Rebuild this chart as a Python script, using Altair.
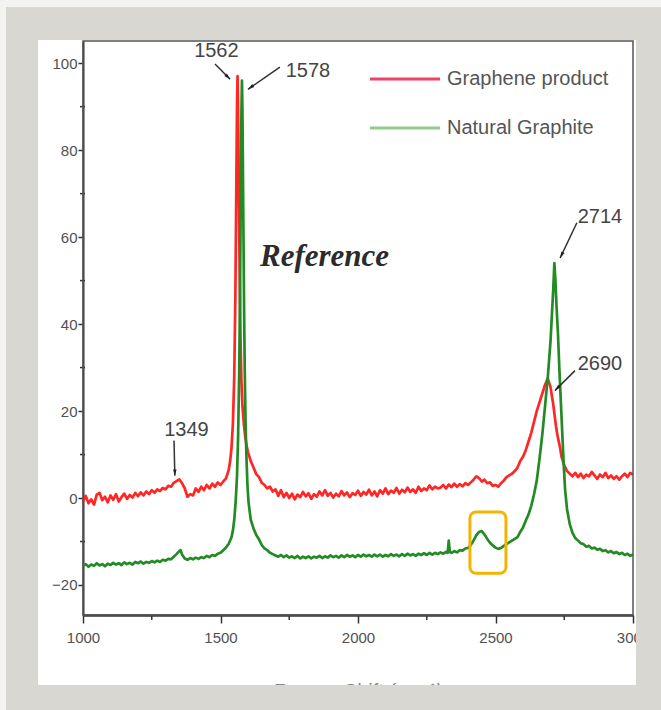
import altair as alt
import pandas as pd

SERIES = ["Graphene product", "Natural Graphite"]
LINE_COLORS = ["#ff2626", "#238b23"]
LEGEND_COLORS = ["#f2406a", "#92cc8c"]

# (Raman shift, intensity)
RED = [
    (1000, -0.8), (1010, 0.5), (1020, -1.2), (1030, -0.3), (1040, -1.5), (1050, 0.8), (1060, 1.2),
    (1070, -0.5), (1080, 0.3), (1090, -1.0), (1100, 0.6), (1110, -0.4), (1120, 0.9), (1130, -0.8),
    (1140, 0.2), (1150, 1.0), (1160, -0.2), (1170, 0.7), (1180, 0.1), (1190, 1.2), (1200, 0.4),
    (1210, 1.3), (1220, 0.6), (1230, 1.5), (1240, 0.9), (1250, 1.8), (1260, 1.2), (1270, 2.0),
    (1280, 1.6), (1290, 2.3), (1300, 2.0), (1310, 2.8), (1320, 2.6), (1330, 3.5), (1340, 3.9),
    (1350, 4.3), (1360, 3.4), (1370, 2.2), (1380, 0.3), (1390, 0.9), (1400, 0.6), (1410, 2.2),
    (1420, 1.4), (1430, 2.6), (1440, 1.8), (1450, 3.0), (1460, 2.2), (1470, 3.3), (1480, 2.6),
    (1490, 3.6), (1500, 3.0), (1510, 3.8), (1520, 4.5), (1525, 5.5), (1530, 6.5), (1535, 8.5),
    (1540, 11.5), (1545, 17), (1550, 28), (1554, 46), (1557, 68), (1560, 90), (1562, 97),
    (1564, 90), (1567, 68), (1570, 50), (1573, 36), (1576, 27), (1580, 21), (1585, 17), (1590, 14),
    (1595, 12), (1600, 10.5), (1605, 9.5), (1610, 8.5), (1620, 7.0), (1630, 5.5), (1640, 4.8),
    (1650, 3.5), (1660, 3.0), (1670, 2.2), (1680, 2.6), (1690, 1.5), (1700, 2.0), (1710, 0.5),
    (1720, 1.8), (1730, 0.2), (1740, 1.2), (1750, 0.0), (1760, 1.0), (1770, -0.3), (1780, 0.8),
    (1790, 0.2), (1800, 1.4), (1810, 0.4), (1820, 1.1), (1830, -0.2), (1840, 0.9), (1850, 0.3),
    (1860, 1.5), (1870, 0.6), (1880, 1.8), (1890, 0.5), (1900, 1.2), (1910, 0.1), (1920, 1.0),
    (1930, 0.4), (1940, 1.6), (1950, 0.6), (1960, 1.3), (1970, 0.2), (1980, 1.1), (1990, 0.7),
    (2000, 1.7), (2010, 0.5), (2020, 1.4), (2030, 0.8), (2040, 1.9), (2050, 0.6), (2060, 1.5),
    (2070, 0.4), (2080, 1.8), (2090, 1.0), (2100, 2.2), (2110, 0.9), (2120, 1.7), (2130, 1.2),
    (2140, 2.3), (2150, 1.0), (2160, 1.9), (2170, 1.3), (2180, 2.4), (2190, 1.4), (2200, 2.0),
    (2210, 1.2), (2220, 2.6), (2230, 1.6), (2240, 2.2), (2250, 1.8), (2260, 2.9), (2270, 2.0),
    (2280, 2.6), (2290, 2.2), (2300, 2.4), (2310, 3.0), (2320, 2.2), (2330, 3.1), (2340, 2.5),
    (2350, 3.3), (2360, 2.6), (2370, 3.2), (2380, 2.7), (2390, 3.4), (2400, 3.0), (2410, 3.6),
    (2420, 4.2), (2430, 5.0), (2440, 4.6), (2450, 3.8), (2460, 4.2), (2470, 3.4), (2480, 3.6),
    (2490, 2.8), (2500, 3.0), (2510, 2.6), (2520, 3.4), (2530, 4.0), (2540, 4.8), (2550, 5.2),
    (2560, 5.6), (2570, 6.2), (2580, 7.0), (2590, 8.5), (2600, 9.5), (2610, 11.0), (2620, 13.0),
    (2630, 15.0), (2640, 17.5), (2650, 20.0), (2660, 22.0), (2670, 24.0), (2680, 26.0),
    (2690, 27.5), (2700, 25.5), (2705, 23.5), (2710, 21.5), (2715, 19.0), (2720, 16.5),
    (2725, 14.5), (2730, 13.0), (2735, 11.5), (2740, 9.5), (2745, 8.5), (2750, 7.5), (2760, 6.2),
    (2770, 5.6), (2780, 5.0), (2790, 5.8), (2800, 4.8), (2810, 5.6), (2820, 4.6), (2830, 5.4),
    (2840, 5.0), (2850, 6.0), (2860, 5.2), (2870, 4.4), (2880, 5.4), (2890, 4.8), (2900, 5.8),
    (2910, 4.6), (2920, 5.2), (2930, 4.4), (2940, 5.0), (2950, 4.2), (2960, 5.0), (2970, 5.6),
    (2980, 4.8), (2990, 5.8), (3000, 5.4),
]

GREEN = [
    (1000, -15.6), (1010, -15.2), (1020, -15.8), (1030, -15.3), (1040, -15.6), (1050, -15.0),
    (1060, -15.5), (1070, -15.2), (1080, -15.7), (1090, -15.1), (1100, -15.4), (1110, -14.9),
    (1120, -15.3), (1130, -15.0), (1140, -15.4), (1150, -14.8), (1160, -15.2), (1170, -14.9),
    (1180, -15.3), (1190, -14.7), (1200, -15.0), (1210, -14.6), (1220, -15.1), (1230, -14.7),
    (1240, -14.9), (1250, -14.5), (1260, -14.8), (1270, -14.4), (1280, -14.7), (1290, -14.2),
    (1300, -14.4), (1310, -14.0), (1320, -14.1), (1330, -13.5), (1340, -12.9), (1350, -12.2),
    (1355, -12.0), (1360, -13.0), (1370, -13.9), (1380, -14.2), (1390, -13.8), (1400, -14.1),
    (1410, -13.7), (1420, -14.0), (1430, -13.6), (1440, -13.8), (1450, -13.3), (1460, -13.6),
    (1470, -13.1), (1480, -13.3), (1490, -12.8), (1500, -12.6), (1510, -12.0), (1520, -11.4),
    (1530, -10.5), (1540, -9.0), (1545, -7.5), (1550, -5.0), (1555, -1.0), (1560, 5.0),
    (1564, 14.0), (1568, 29.0), (1571, 47.0), (1574, 72.0), (1576, 88.0), (1578, 96.0),
    (1580, 88.0), (1582, 72.0), (1584, 57.0), (1586, 42.0), (1588, 30.0), (1591, 18.0),
    (1594, 10.0), (1598, 3.0), (1602, -1.0), (1606, -3.0), (1610, -5.0), (1620, -7.0),
    (1630, -8.5), (1640, -9.5), (1650, -10.8), (1660, -11.6), (1670, -12.0), (1680, -12.6),
    (1690, -12.9), (1700, -13.2), (1710, -13.5), (1720, -13.1), (1730, -13.6), (1740, -13.2),
    (1750, -13.7), (1760, -13.4), (1770, -13.8), (1780, -13.3), (1790, -13.9), (1800, -13.5),
    (1810, -13.8), (1820, -13.4), (1830, -13.9), (1840, -13.5), (1850, -13.7), (1860, -13.3),
    (1870, -13.8), (1880, -13.4), (1890, -13.7), (1900, -13.2), (1910, -13.6), (1920, -13.3),
    (1930, -13.7), (1940, -13.2), (1950, -13.6), (1960, -13.1), (1970, -13.5), (1980, -13.2),
    (1990, -13.6), (2000, -13.1), (2010, -13.5), (2020, -13.0), (2030, -13.4), (2040, -13.1),
    (2050, -13.5), (2060, -13.0), (2070, -13.4), (2080, -13.0), (2090, -13.5), (2100, -13.1),
    (2110, -13.4), (2120, -12.9), (2130, -13.3), (2140, -13.0), (2150, -13.4), (2160, -12.9),
    (2170, -13.3), (2180, -12.8), (2190, -13.2), (2200, -12.9), (2210, -13.3), (2220, -12.8),
    (2230, -13.1), (2240, -12.7), (2250, -13.1), (2260, -12.6), (2270, -13.0), (2280, -12.6),
    (2290, -12.9), (2300, -12.5), (2310, -12.8), (2320, -12.4), (2326, -12.6), (2330, -9.8),
    (2334, -12.4), (2340, -12.6), (2350, -12.2), (2360, -12.5), (2370, -12.0), (2380, -12.1),
    (2390, -11.6), (2400, -11.5), (2410, -10.8), (2420, -9.8), (2430, -8.6), (2440, -7.8),
    (2450, -7.6), (2460, -8.4), (2470, -9.4), (2480, -10.3), (2490, -10.9), (2500, -11.4),
    (2510, -11.7), (2520, -11.5), (2530, -11.0), (2540, -10.6), (2550, -10.2), (2560, -9.8),
    (2570, -9.4), (2580, -9.0), (2590, -7.8), (2600, -6.8), (2610, -5.2), (2620, -3.8),
    (2630, -1.8), (2640, 0.8), (2650, 4.0), (2660, 9.0), (2670, 14.5), (2680, 21.0),
    (2690, 27.7), (2700, 36.0), (2705, 42.0), (2710, 48.0), (2714, 54.0), (2718, 50.0),
    (2722, 44.0), (2727, 38.0), (2732, 30.0), (2737, 23.0), (2742, 16.0), (2747, 9.0),
    (2753, 2.0), (2760, -2.5), (2770, -6.0), (2780, -8.0), (2790, -9.2), (2800, -9.8),
    (2810, -10.4), (2820, -10.6), (2830, -11.2), (2840, -11.0), (2850, -11.6), (2860, -11.4),
    (2870, -11.9), (2880, -11.7), (2890, -12.2), (2900, -12.0), (2910, -12.5), (2920, -12.2),
    (2930, -12.7), (2940, -12.4), (2950, -12.9), (2960, -12.6), (2970, -13.1), (2980, -12.8),
    (2990, -13.3), (3000, -13.0),
]

X_MAJOR = [1000, 1500, 2000, 2500, 3000]
X_MINOR = [1250, 1750, 2250, 2750]
Y_MAJOR = [-20, 0, 20, 40, 60, 80, 100]
Y_MINOR = [-10, 10, 30, 50, 70, 90]

# peak annotations
PEAK_LABELS = ["1562", "1578", "2714", "2690", "1349"]
LABEL_X = [1485, 1818, 2880, 2880, 1376]
LABEL_Y = [102.8, 98.2, 64.7, 30.9, 15.7]
ARROW_X0 = [1480, 1716, 2796, 2789, 1331]
ARROW_Y0 = [99.8, 99.1, 63.3, 29.3, 13.2]
ARROW_X1 = [1535, 1600, 2735, 2716, 1334]
ARROW_Y1 = [96.3, 94.0, 55.2, 24.7, 5.1]
ARROW_ANGLE = [135, 235, 206, 225, 180]

# highlighted region
BOX_X = [2407, 2538]
BOX_Y = [-3.2, -17.3]

W, H = 550, 574
GRAY = "#d8d7d1"

rows = [{"shift": x, "intensity": y, "series": SERIES[0]} for x, y in RED]
rows += [{"shift": x, "intensity": y, "series": SERIES[1]} for x, y in GREEN]
df = pd.DataFrame(rows)

xs = alt.Scale(domain=[1000, 3000], nice=False, zero=False)
ys = alt.Scale(domain=[-26.9, 105.1], nice=False, zero=False)

X_AXIS = alt.Axis(
    values=X_MAJOR, format="d", grid=False, tickSize=8, tickWidth=1.5, tickColor="#333",
    domainColor="#333", domainWidth=2.5, labelFontSize=15, labelColor="#505050",
    labelFont="Liberation Sans", labelPadding=7, labelFlush=False, labelOverlap=False,
    title="Raman Shift (cm⁻¹)", titleFont="Liberation Sans", titleFontSize=20,
    titleFontWeight="normal", titleColor="#888", titleY=66, titleBaseline="top")
Y_AXIS = alt.Axis(
    values=Y_MAJOR, grid=False, tickSize=5, tickWidth=1.5, tickColor="#333",
    domainColor="#333", domainWidth=2, labelFontSize=15, labelColor="#505050",
    labelFont="Liberation Sans", labelPadding=1, labelFlush=False, labelOverlap=False,
    title=None)


def X(field):
    return alt.X(field, scale=xs, axis=X_AXIS)


def Y(field):
    return alt.Y(field, scale=ys, axis=Y_AXIS)


lines = alt.Chart(df).mark_line(strokeWidth=2.7, strokeJoin="round").encode(
    x=X("shift:Q"),
    y=Y("intensity:Q"),
    color=alt.Color("series:N", scale=alt.Scale(domain=SERIES, range=LINE_COLORS), legend=None),
)

one = pd.DataFrame({"a": [0]})


def px_rect(x0, x1, y0, y1, color):
    return alt.Chart(one).mark_rect(color=color).encode(
        x=alt.value(x0), x2=alt.value(x1), y=alt.value(y0), y2=alt.value(y1))


xminor = alt.Chart(pd.DataFrame({"v": X_MINOR})).mark_rule(color="#333", strokeWidth=1.5).encode(
    x=X("v:Q"), y=alt.value(H), y2=alt.value(H + 5))
yminor = alt.Chart(pd.DataFrame({"v": Y_MINOR})).mark_rule(color="#333", strokeWidth=1.5).encode(
    y=Y("v:Q"), x=alt.value(-3), x2=alt.value(2))

border = alt.Chart(one).mark_rect(fillOpacity=0, stroke="#555", strokeWidth=1.5).encode(
    x=alt.value(0), x2=alt.value(W), y=alt.value(0), y2=alt.value(H))

ann = pd.DataFrame({
    "label": PEAK_LABELS, "lx": LABEL_X, "ly": LABEL_Y,
    "x0": ARROW_X0, "y0": ARROW_Y0, "x1": ARROW_X1, "y1": ARROW_Y1, "angle": ARROW_ANGLE,
})
ann_text = alt.Chart(ann).mark_text(font="Liberation Sans", fontSize=20, color="#444",
                                    baseline="middle", align="center").encode(
    x=X("lx:Q"), y=Y("ly:Q"), text="label:N")
ann_lines = alt.Chart(ann).mark_rule(color="#333", strokeWidth=1.5).encode(
    x=X("x0:Q"), y=Y("y0:Q"), x2="x1:Q", y2="y1:Q")
ann_heads = alt.Chart(ann).mark_point(shape="M0,0L0.45,1.6L-0.45,1.6Z", filled=True,
                                      color="#222", size=64, opacity=1).encode(
    x=X("x1:Q"), y=Y("y1:Q"), angle=alt.Angle("angle:Q", scale=None))

box = alt.Chart(pd.DataFrame({"x0": [BOX_X[0]], "x1": [BOX_X[1]],
                              "y0": [BOX_Y[0]], "y1": [BOX_Y[1]]})).mark_rect(
    fillOpacity=0, stroke="#f5b400", strokeWidth=3, cornerRadius=6).encode(
    x=X("x0:Q"), x2="x1:Q", y=Y("y0:Q"), y2="y1:Q")

legend_layers = []
for i, name in enumerate(SERIES):
    yy = 38 + 49 * i
    legend_layers.append(alt.Chart(one).mark_rule(color=LEGEND_COLORS[i], strokeWidth=3).encode(
        x=alt.value(287), x2=alt.value(357), y=alt.value(yy)))
    legend_layers.append(alt.Chart(pd.DataFrame({"t": [name]})).mark_text(
        font="Liberation Sans", fontSize=20, color="#555", align="left", baseline="middle").encode(
        x=alt.value(364), y=alt.value(yy), text="t:N"))

watermark = alt.Chart(pd.DataFrame({"t": ["Reference"]})).mark_text(
    font="Liberation Serif", fontSize=31, fontStyle="italic", fontWeight="bold",
    color="#2b2b2b", align="left", baseline="alphabetic").encode(
    x=alt.value(177), y=alt.value(225), text="t:N")

# grey picture frame around the white panel (left 38, top 40, right 636, bottom 685 in page px)
frame = [
    px_rect(-83, 578, -41, -1, GRAY),
    px_rect(-83, 578, 644, 669, GRAY),
    px_rect(-83, -45, -41, 669, GRAY),
    px_rect(553, 578, -41, 669, GRAY),
    px_rect(-83, 578, -41, -34, "#f3f3f1"),
    px_rect(-83, -77, -41, 669, "#f3f3f1"),
]

chart = alt.layer(
    lines, xminor, yminor, border, box, ann_lines, ann_heads, ann_text,
    *legend_layers, watermark, *frame,
).properties(
    width=W, height=H,
    autosize=alt.AutoSizeParams(type="none"),
    padding={"left": 83, "top": 41, "right": 28, "bottom": 95},
    background="white",
).configure_view(strokeWidth=0)

chart.save("out.html", embed_options={"renderer": "svg", "actions": False})
